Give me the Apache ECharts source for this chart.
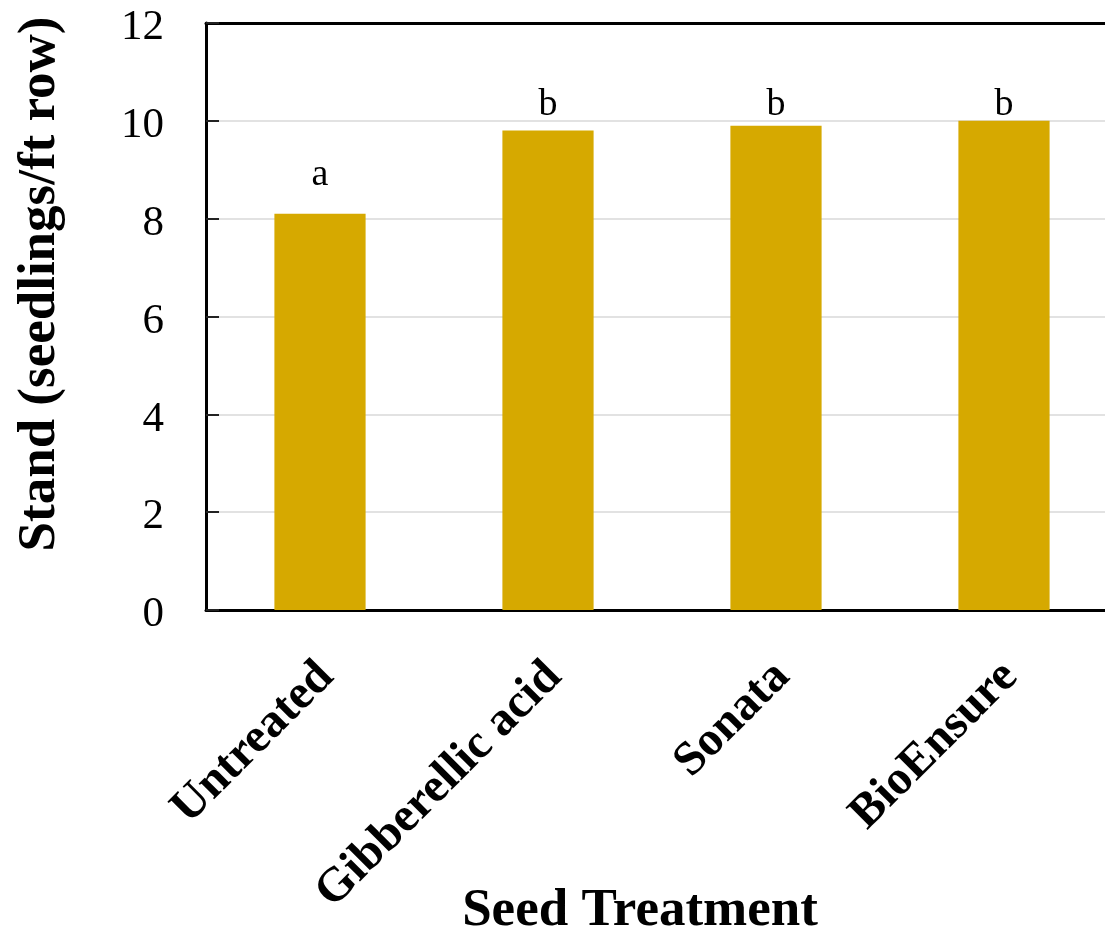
<!DOCTYPE html>
<html>
<head>
<meta charset="utf-8">
<script src="https://cdn.jsdelivr.net/npm/echarts@6/dist/echarts.min.js"></script>
<style>html,body{margin:0;padding:0;background:#fff;overflow:hidden;width:1105px;height:934px;}#c{width:1120px;height:934px;}</style>
</head>
<body>
<div id="c"></div>
<script>
const categories = ['Untreated', 'Gibberellic acid', 'Sonata', 'BioEnsure'];
const standValues = [8.1, 9.8, 9.9, 10.0];
const letterLabels = ['a', 'b', 'b', 'b'];
const letterY = [8.9, 10.33, 10.33, 10.33];
const yTicks = [0, 2, 4, 6, 8, 10, 12];

const FONT = '"Liberation Serif", "Times New Roman", serif';
const chart = echarts.init(document.getElementById('c'));
chart.setOption({
  backgroundColor: '#fff',
  animation: false,
  grid: { left: 206, top: 23, height: 587, width: 912, containLabel: false },
  xAxis: [{
    type: 'category',
    data: categories,
    axisLine: { show: true, lineStyle: { color: '#000', width: 3 } },
    axisTick: { show: false },
    axisLabel: {
      rotate: 45, margin: 32, fontFamily: FONT, fontWeight: 'bold', fontSize: 48, color: '#000',
      align: 'right', verticalAlign: 'top', interval: 0, padding: [0, 15, 0, 0]
    }
  }, {
    type: 'category',
    data: categories,
    position: 'top',
    axisLine: { show: true, lineStyle: { color: '#000', width: 3 } },
    axisTick: { show: false },
    axisLabel: { show: false }
  }],
  yAxis: {
    type: 'value',
    min: yTicks[0], max: yTicks[yTicks.length - 1], interval: 2,
    axisLine: { show: true, lineStyle: { color: '#000', width: 3 } },
    axisTick: { show: true, inside: true, length: 13, lineStyle: { color: '#222', width: 2 } },
    splitLine: { show: true, lineStyle: { color: '#e2e2e2', width: 2 } },
    axisLabel: {
      margin: 42, color: '#000',
      formatter: '{v|{value}}',
      rich: { v: { fontFamily: FONT, fontSize: 43, color: '#000', padding: [10, 0, 0, 0] } }
    }
  },
  graphic: [{
    type: 'text',
    x: 640, y: 911,
    style: { text: 'Seed Treatment', font: 'bold 53px ' + FONT, fill: '#000', align: 'center', verticalAlign: 'middle' }
  }, {
    type: 'text',
    x: 40, y: 284, rotation: Math.PI / 2,
    style: { text: 'Stand (seedlings/ft row)', font: 'bold 53px ' + FONT, fill: '#000', align: 'center', verticalAlign: 'middle' }
  }],
  series: [{
    type: 'bar',
    data: standValues,
    barWidth: '40%',
    itemStyle: { color: '#D6A900' }
  }, {
    type: 'scatter',
    data: letterY.map((v, i) => ({ value: v, label: { formatter: letterLabels[i] } })),
    symbolSize: 0,
    itemStyle: { opacity: 1 },
    label: { show: true, position: 'inside', fontFamily: FONT, fontSize: 38, color: '#000', opacity: 1, textBorderWidth: 0 }
  }]
});
</script>
</body>
</html>
